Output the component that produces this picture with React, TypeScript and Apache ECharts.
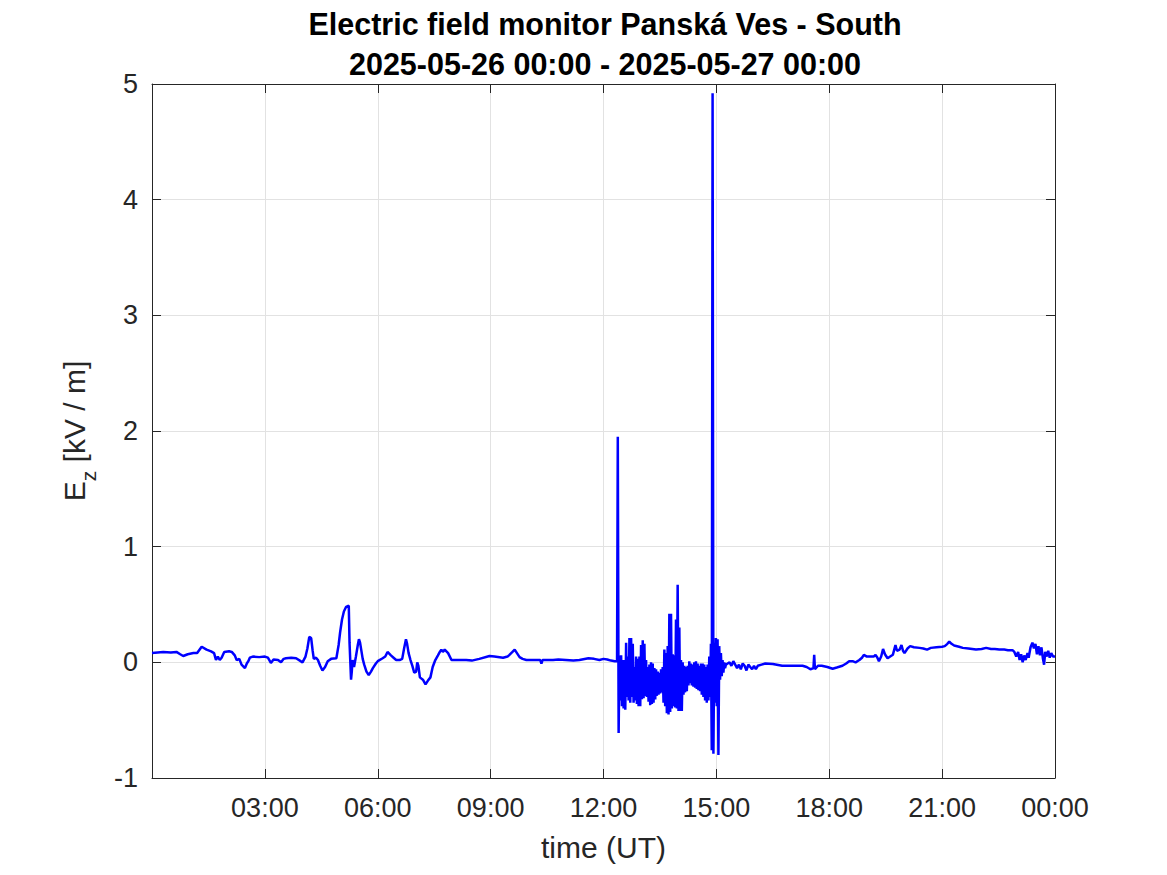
import React, { useEffect, useRef } from "react";
import * as echarts from "echarts";

const titleLines = ["Electric field monitor Panská Ves - South", "2025-05-26 00:00 - 2025-05-27 00:00"];
const xTickHours = [0, 3, 6, 9, 12, 15, 18, 21, 24];
const yTicks = [-1, 0, 1, 2, 3, 4, 5];

// [hour UT, Ez kV/m]
const calmMorning: [number, number][] = [
  [0, 0.08], [0.15, 0.085], [0.3, 0.09], [0.5, 0.085], [0.65, 0.09], [0.75, 0.07], [0.83, 0.055], [0.95, 0.07],
  [1.1, 0.08], [1.2, 0.08], [1.32, 0.135], [1.45, 0.11], [1.57, 0.095], [1.65, 0.08], [1.7, 0.02], [1.75, 0.05],
  [1.8, 0.02], [1.85, 0.04], [1.92, 0.09], [2.05, 0.095], [2.12, 0.09], [2.2, 0.06], [2.25, 0.02], [2.32, 0.03],
  [2.38, -0.02], [2.47, -0.05], [2.52, -0.01], [2.56, 0.01], [2.6, 0.04], [2.68, 0.05], [2.85, 0.045], [3.0, 0.05],
  [3.08, 0.04], [3.16, -0.005], [3.23, 0.025], [3.35, 0.02], [3.43, 0.0], [3.5, 0.03], [3.56, 0.035], [3.7, 0.04],
  [3.83, 0.035], [3.95, 0.01], [4.0, 0.0], [4.08, 0.05], [4.13, 0.12], [4.18, 0.22], [4.23, 0.21], [4.27, 0.1],
  [4.3, 0.03], [4.36, 0.04], [4.41, 0.02], [4.47, -0.03], [4.53, -0.07], [4.6, -0.04], [4.67, 0.01], [4.76, 0.03],
  [4.9, 0.035], [4.96, 0.15], [5.0, 0.26], [5.05, 0.37], [5.1, 0.44], [5.16, 0.48], [5.23, 0.49], [5.25, 0.17],
  [5.29, -0.15], [5.31, -0.08], [5.33, 0.02], [5.37, -0.04], [5.42, 0.05], [5.47, 0.15], [5.5, 0.2], [5.53, 0.17],
  [5.56, 0.11], [5.6, 0.03], [5.64, -0.02], [5.7, -0.08], [5.76, -0.11], [5.82, -0.08], [5.87, -0.05], [5.95, -0.01],
  [6.0, 0.01], [6.13, 0.035], [6.2, 0.05], [6.26, 0.09], [6.35, 0.06], [6.42, 0.04], [6.49, 0.02], [6.58, 0.02],
  [6.65, 0.03], [6.7, 0.12], [6.75, 0.2], [6.78, 0.16], [6.82, 0.08], [6.87, 0.02], [6.92, -0.03], [6.97, -0.09],
  [7.02, -0.08], [7.05, 0.0], [7.08, -0.03], [7.12, -0.13], [7.2, -0.15], [7.27, -0.19], [7.33, -0.16], [7.4, -0.13],
  [7.46, -0.04], [7.53, 0.02], [7.6, 0.06], [7.65, 0.09], [7.69, 0.11], [7.73, 0.09], [7.78, 0.11], [7.87, 0.08],
  [7.96, 0.02], [8.1, 0.02], [8.35, 0.02], [8.5, 0.015], [8.7, 0.03], [8.97, 0.055], [9.1, 0.05], [9.33, 0.04],
  [9.45, 0.05], [9.5, 0.065], [9.58, 0.09], [9.64, 0.11], [9.7, 0.08], [9.77, 0.045], [9.85, 0.03], [9.95, 0.02],
  [10.2, 0.02], [10.32, 0.02], [10.35, -0.01], [10.38, 0.02], [10.5, 0.02], [10.66, 0.02], [10.8, 0.025], [11.0, 0.02],
  [11.2, 0.015], [11.36, 0.02], [11.6, 0.035], [11.75, 0.03], [11.89, 0.02], [12.0, 0.03], [12.1, 0.025], [12.2, 0.015],
  [12.3, 0.01], [12.36, 0.01],
];

// storm burst, regularly sampled
const burstStart = 12.38;
const burstStep = 0.0221;
const burstValues: number[] = [
  1.95, -0.61, 0.06, -0.33, 0.06, -0.38, 0.02, -0.4, 0.02, -0.41,
  0.17, -0.3, 0.05, -0.33, 0.21, -0.35, 0.21, -0.3, 0.16, -0.35,
  -0.04, -0.33, 0.05, -0.36, 0.03, -0.38, 0.05, -0.38, 0.15, -0.32,
  0.19, -0.31, 0.16, -0.29, 0.02, -0.3, -0.04, -0.34, -0.02, -0.37,
  0.0, -0.36, -0.01, -0.35, -0.05, -0.32, -0.06, -0.29, -0.08, -0.28,
  -0.09, -0.27, -0.06, -0.26, -0.04, -0.35, 0.11, -0.38, 0.08, -0.44,
  0.14, -0.45, 0.42, -0.43, 0.42, -0.4, 0.07, -0.38, 0.06, -0.39,
  0.37, -0.4, 0.67, -0.42, 0.3, -0.42, 0.02, -0.42, 0.0, -0.28,
  -0.03, -0.26, -0.04, -0.25, -0.03, -0.2, 0.01, -0.18, -0.01, -0.2,
  -0.02, -0.21, 0.0, -0.22, 0.01, -0.23, -0.01, -0.24, -0.03, -0.25,
  -0.01, -0.28, -0.01, -0.3, -0.02, -0.33, -0.04, -0.35, -0.02, -0.33,
  0.05, -0.3, 0.16, -0.76, 4.92, -0.79, 0.17, -0.35, 0.21, -0.38,
  0.2, -0.8, 0.14, -0.15, 0.08, -0.12, 0.02, -0.09, 0.0, -0.05,
  -0.02,
];

const calmEvening: [number, number][] = [
  [15.3, -0.01], [15.35, 0.0], [15.4, -0.03], [15.45, 0.01], [15.5, -0.02], [15.55, -0.05], [15.6, -0.02], [15.65, -0.06],
  [15.7, -0.01], [15.75, -0.03], [15.8, -0.07], [15.85, -0.02], [15.9, -0.04], [15.95, -0.06], [16.0, -0.03], [16.05, -0.06],
  [16.1, -0.03], [16.2, -0.02], [16.3, -0.01], [16.5, -0.015], [16.75, -0.03], [17.0, -0.03], [17.29, -0.03], [17.4, -0.04],
  [17.5, -0.06], [17.58, -0.05], [17.6, 0.065], [17.62, -0.06], [17.7, -0.03], [17.8, -0.03], [17.95, -0.04], [18.09, -0.055],
  [18.2, -0.045], [18.35, -0.03], [18.45, -0.01], [18.53, 0.01], [18.62, 0.01], [18.7, 0.0], [18.8, 0.02], [18.87, 0.04],
  [18.92, 0.065], [19.0, 0.05], [19.1, 0.05], [19.18, 0.05], [19.23, 0.065], [19.28, 0.04], [19.32, 0.01], [19.38, 0.05],
  [19.43, 0.115], [19.48, 0.07], [19.55, 0.035], [19.62, 0.05], [19.69, 0.065], [19.76, 0.15], [19.8, 0.1], [19.87, 0.11],
  [19.92, 0.15], [19.96, 0.1], [20.0, 0.08], [20.08, 0.12], [20.15, 0.14], [20.25, 0.13], [20.4, 0.125], [20.5, 0.12],
  [20.6, 0.11], [20.7, 0.125], [20.85, 0.13], [21.0, 0.135], [21.07, 0.14], [21.14, 0.16], [21.19, 0.18], [21.25, 0.16],
  [21.32, 0.145], [21.45, 0.135], [21.55, 0.125], [21.7, 0.12], [21.8, 0.115], [21.9, 0.11], [22.05, 0.115], [22.17, 0.125],
  [22.3, 0.115], [22.4, 0.115], [22.52, 0.11], [22.65, 0.11], [22.75, 0.105], [22.87, 0.105], [22.92, 0.09], [22.97, 0.05],
  [23.02, 0.09], [23.06, 0.02], [23.1, 0.07], [23.14, 0.0], [23.18, 0.06], [23.22, 0.02], [23.27, 0.08], [23.3, 0.04],
  [23.35, 0.13], [23.4, 0.17], [23.44, 0.12], [23.48, 0.16], [23.52, 0.07], [23.56, 0.14], [23.6, 0.06], [23.64, 0.13],
  [23.68, 0.03], [23.71, -0.02], [23.74, 0.09], [23.78, 0.05], [23.82, 0.1], [23.86, 0.04], [23.9, 0.08], [23.95, 0.05],
  [24.0, 0.05],
];

const FONT = "'Liberation Sans', Arial, Helvetica, sans-serif";
const AXIS_COLOR = "#262626";
const GRID_COLOR = "#e2e2e2";

function fmtHour(v: number): string {
  if (v === 0) return "";
  const h = Math.round(v) % 24;
  return (h < 10 ? "0" : "") + h + ":00";
}

export default function App() {
  const ref = useRef<HTMLDivElement>(null);
  useEffect(() => {
    if (!ref.current) return;
    const chart = echarts.init(ref.current, undefined, { renderer: "svg" });
    const burst: [number, number][] = burstValues.map((v, i) => [burstStart + i * burstStep, v]);
    const data = [...calmMorning, ...burst, ...calmEvening];
    const xMin = xTickHours[0];
    const xMax = xTickHours[xTickHours.length - 1];
    const xInt = xTickHours[1] - xTickHours[0];
    const yMin = yTicks[0];
    const yMax = yTicks[yTicks.length - 1];
    const yInt = yTicks[1] - yTicks[0];
    const tick = { show: true, inside: true, length: 9, lineStyle: { color: AXIS_COLOR, width: 1 } };
    const line = { show: true, onZero: false, lineStyle: { color: AXIS_COLOR, width: 1 } };
    chart.setOption({
      animation: false,
      backgroundColor: "#ffffff",
      textStyle: { fontFamily: FONT },
      graphic: [
        {
          type: "text",
          x: 605,
          y: 24,
          style: { text: titleLines[0], font: `bold 30.5px ${FONT}`, fill: "#000000", align: "center", verticalAlign: "middle" },
        },
        {
          type: "text",
          x: 605,
          y: 64,
          style: { text: titleLines[1], font: `bold 30.5px ${FONT}`, fill: "#000000", align: "center", verticalAlign: "middle" },
        },
      ],
      grid: { left: 152, right: 112, top: 84, bottom: 97, containLabel: false },
      xAxis: [
        {
          type: "value",
          min: xMin,
          max: xMax,
          interval: xInt,
          position: "bottom",
          axisLine: line,
          axisTick: tick,
          name: "time (UT)",
          nameLocation: "middle",
          nameGap: 54,
          nameTextStyle: { fontSize: 30, color: AXIS_COLOR, fontFamily: FONT },
          axisLabel: {
            show: true,
            fontSize: 27,
            color: AXIS_COLOR,
            fontFamily: FONT,
            margin: 16,
            showMinLabel: true,
            showMaxLabel: true,
            formatter: fmtHour,
          },
          splitLine: { show: true, lineStyle: { color: GRID_COLOR, width: 1 } },
        },
        {
          type: "value",
          min: xMin,
          max: xMax,
          interval: xInt,
          position: "top",
          axisLine: line,
          axisTick: tick,
          axisLabel: { show: false },
          splitLine: { show: false },
        },
      ],
      yAxis: [
        {
          type: "value",
          min: yMin,
          max: yMax,
          interval: yInt,
          position: "left",
          axisLine: line,
          axisTick: tick,
          name: "{e|E}{z|z}{u| [kV / m]}",
          nameLocation: "middle",
          nameRotate: 90,
          nameGap: 53,
          nameTextStyle: {
            color: AXIS_COLOR,
            fontFamily: FONT,
            rich: {
              e: { fontSize: 30, lineHeight: 50, color: AXIS_COLOR, fontFamily: FONT },
              z: { fontSize: 21, lineHeight: 20, verticalAlign: "bottom", color: AXIS_COLOR, fontFamily: FONT },
              u: { fontSize: 30, lineHeight: 50, color: AXIS_COLOR, fontFamily: FONT },
            },
          },
          axisLabel: { show: true, fontSize: 27, color: AXIS_COLOR, fontFamily: FONT, margin: 14 },
          splitLine: { show: true, lineStyle: { color: GRID_COLOR, width: 1 } },
        },
        {
          type: "value",
          min: yMin,
          max: yMax,
          interval: yInt,
          position: "right",
          axisLine: line,
          axisTick: tick,
          axisLabel: { show: false },
          splitLine: { show: false },
        },
      ],
      series: [
        {
          type: "line",
          xAxisIndex: 0,
          yAxisIndex: 0,
          data,
          showSymbol: false,
          symbol: "none",
          smooth: false,
          clip: true,
          lineStyle: { color: "#0000ff", width: 2.5 },
          itemStyle: { color: "#0000ff" },
          z: 3,
        },
      ],
    });
    return () => chart.dispose();
  }, []);
  return <div ref={ref} style={{ position: "fixed", left: 0, top: 0, width: 1167, height: 875 }} />;
}
